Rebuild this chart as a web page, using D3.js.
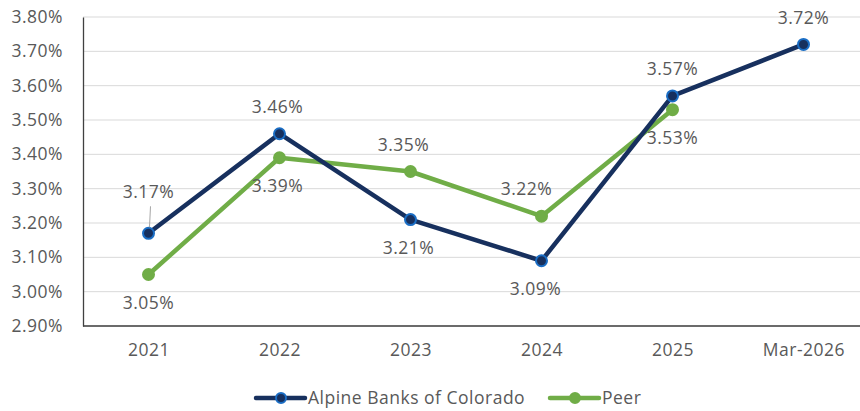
<!DOCTYPE html>
<html>
<head>
<meta charset="utf-8">
<script src="https://cdn.jsdelivr.net/npm/d3@7"></script>
<style>
  body { margin: 0; background: #fff; }
  svg { display: block; font-family: 'Open Sans', sans-serif; }
  text { letter-spacing: 0.5px; }
</style>
</head>
<body>
<div class="svg-container"></div>
<script>
const w = 860;
const h = 411;

const categories = ['2021', '2022', '2023', '2024', '2025', 'Mar-2026'];
const alpineValues = [3.17, 3.46, 3.21, 3.09, 3.57, 3.72];
const peerValues = [3.05, 3.39, 3.35, 3.22, 3.53];
const yTicks = [2.9, 3.0, 3.1, 3.2, 3.3, 3.4, 3.5, 3.6, 3.7, 3.8];

// label placement: where each data label sits relative to its point
const alpineLabelPos = ['leader', 'above', 'below', 'below', 'above', 'above'];
const peerLabelPos = ['below', 'below', 'above', 'above', 'below'];
const alpineLabelDx = [0, -2, -2, -6, 0, 0];
const peerLabelDx = [0, -2, -7, -15, 0];

const navy = '#17305e';
const green = '#70ad47';
const grey = '#595959';
const fontSize = '17.5px';

const margin = {left: 83, right: -9, top: 17, bottom: 85};

const svg = d3
	.select('.svg-container')
	.append('svg')
	.attr('width', w)
	.attr('height', h);

const xScale = d3
	.scalePoint()
	.domain(categories)
	.range([margin.left, w - margin.right])
	.padding(0.5);

const yScale = d3
	.scaleLinear()
	.domain([2.9, 3.8])
	.range([h - margin.bottom, margin.top]);

// gridlines
svg
	.append('g')
	.selectAll('line')
	.data(yTicks)
	.enter()
	.append('line')
	.attr('x1', margin.left)
	.attr('x2', w)
	.attr('y1', d => yScale(d))
	.attr('y2', d => yScale(d))
	.attr('stroke', '#d9d9d9')
	.attr('stroke-width', 1);

const yAxis = d3
	.axisLeft(yScale)
	.tickValues(yTicks)
	.tickSize(0)
	.tickPadding(20)
	.tickFormat(d => d.toFixed(2) + '%');

svg
	.append('g')
	.attr('transform', `translate(${margin.left}, 0)`)
	.call(yAxis)
	.call(g => g.select('.domain').attr('stroke', '#404040').attr('stroke-width', 1.3))
	.call(g => g.selectAll('text').attr('fill', grey).style('font-size', fontSize).style('font-family', 'Open Sans'));

const xAxis = d3.axisBottom(xScale).tickSize(0).tickPadding(18);

svg
	.append('g')
	.attr('transform', `translate(0, ${h - margin.bottom})`)
	.call(xAxis)
	.call(g => g.select('.domain').attr('d', `M${margin.left},0H${w}`).attr('stroke', '#404040').attr('stroke-width', 1.3))
	.call(g => g.selectAll('text').attr('fill', grey).style('font-size', fontSize).style('font-family', 'Open Sans'));

const line = d3
	.line()
	.x((d, i) => xScale(categories[i]))
	.y(d => yScale(d));

function drawSeries(values, color, markerFill, markerStroke) {
	svg
		.append('path')
		.datum(values)
		.attr('d', line)
		.attr('fill', 'none')
		.attr('stroke', color)
		.attr('stroke-width', 4.5)
		.attr('stroke-linejoin', 'round');

	svg
		.append('g')
		.selectAll('circle')
		.data(values)
		.enter()
		.append('circle')
		.attr('cx', (d, i) => xScale(categories[i]))
		.attr('cy', d => yScale(d))
		.attr('r', 5.5)
		.attr('fill', markerFill)
		.attr('stroke', markerStroke)
		.attr('stroke-width', 2);
}

drawSeries(peerValues, green, green, green);
drawSeries(alpineValues, navy, navy, '#1a6dc4');

function drawLabels(values, positions, dxs) {
	const g = svg.append('g');
	values.forEach((v, i) => {
		const x = xScale(categories[i]) + dxs[i];
		const y = yScale(v);
		let ly = y;
		if (positions[i] === 'above') ly = y - 27;
		if (positions[i] === 'below') ly = y + 28;
		if (positions[i] === 'leader') {
			ly = y - 41;
			g.append('line')
				.attr('x1', x + 2)
				.attr('y1', y - 27)
				.attr('x2', x + 1)
				.attr('y2', y - 6)
				.attr('stroke', '#a6a6a6')
				.attr('stroke-width', 1);
		}
		g.append('text')
			.attr('x', x)
			.attr('y', ly)
			.attr('dy', '0.35em')
			.attr('text-anchor', 'middle')
			.attr('fill', grey)
			.style('font-size', fontSize)
			.text(v.toFixed(2) + '%');
	});
}

drawLabels(alpineValues, alpineLabelPos, alpineLabelDx);
drawLabels(peerValues, peerLabelPos, peerLabelDx);

// legend
const legendItems = [
	{name: 'Alpine Banks of Colorado', color: navy, stroke: '#1a6dc4', x: 256},
	{name: 'Peer', color: green, stroke: green, x: 550},
];

const legend = svg.append('g').attr('transform', 'translate(0, 398)');

legendItems.forEach(item => {
	const lg = legend.append('g').attr('transform', `translate(${item.x}, 0)`);
	lg.append('line')
		.attr('x1', 0)
		.attr('x2', 49)
		.attr('stroke', item.color)
		.attr('stroke-width', 4.5)
		.attr('stroke-linecap', 'round');
	lg.append('circle')
		.attr('cx', 25)
		.attr('r', 5)
		.attr('fill', item.color)
		.attr('stroke', item.stroke)
		.attr('stroke-width', 2);
	lg.append('text')
		.attr('x', 52)
		.attr('dy', '0.35em')
		.attr('fill', grey)
		.style('font-size', fontSize)
		.text(item.name);
});
</script>
</body>
</html>
